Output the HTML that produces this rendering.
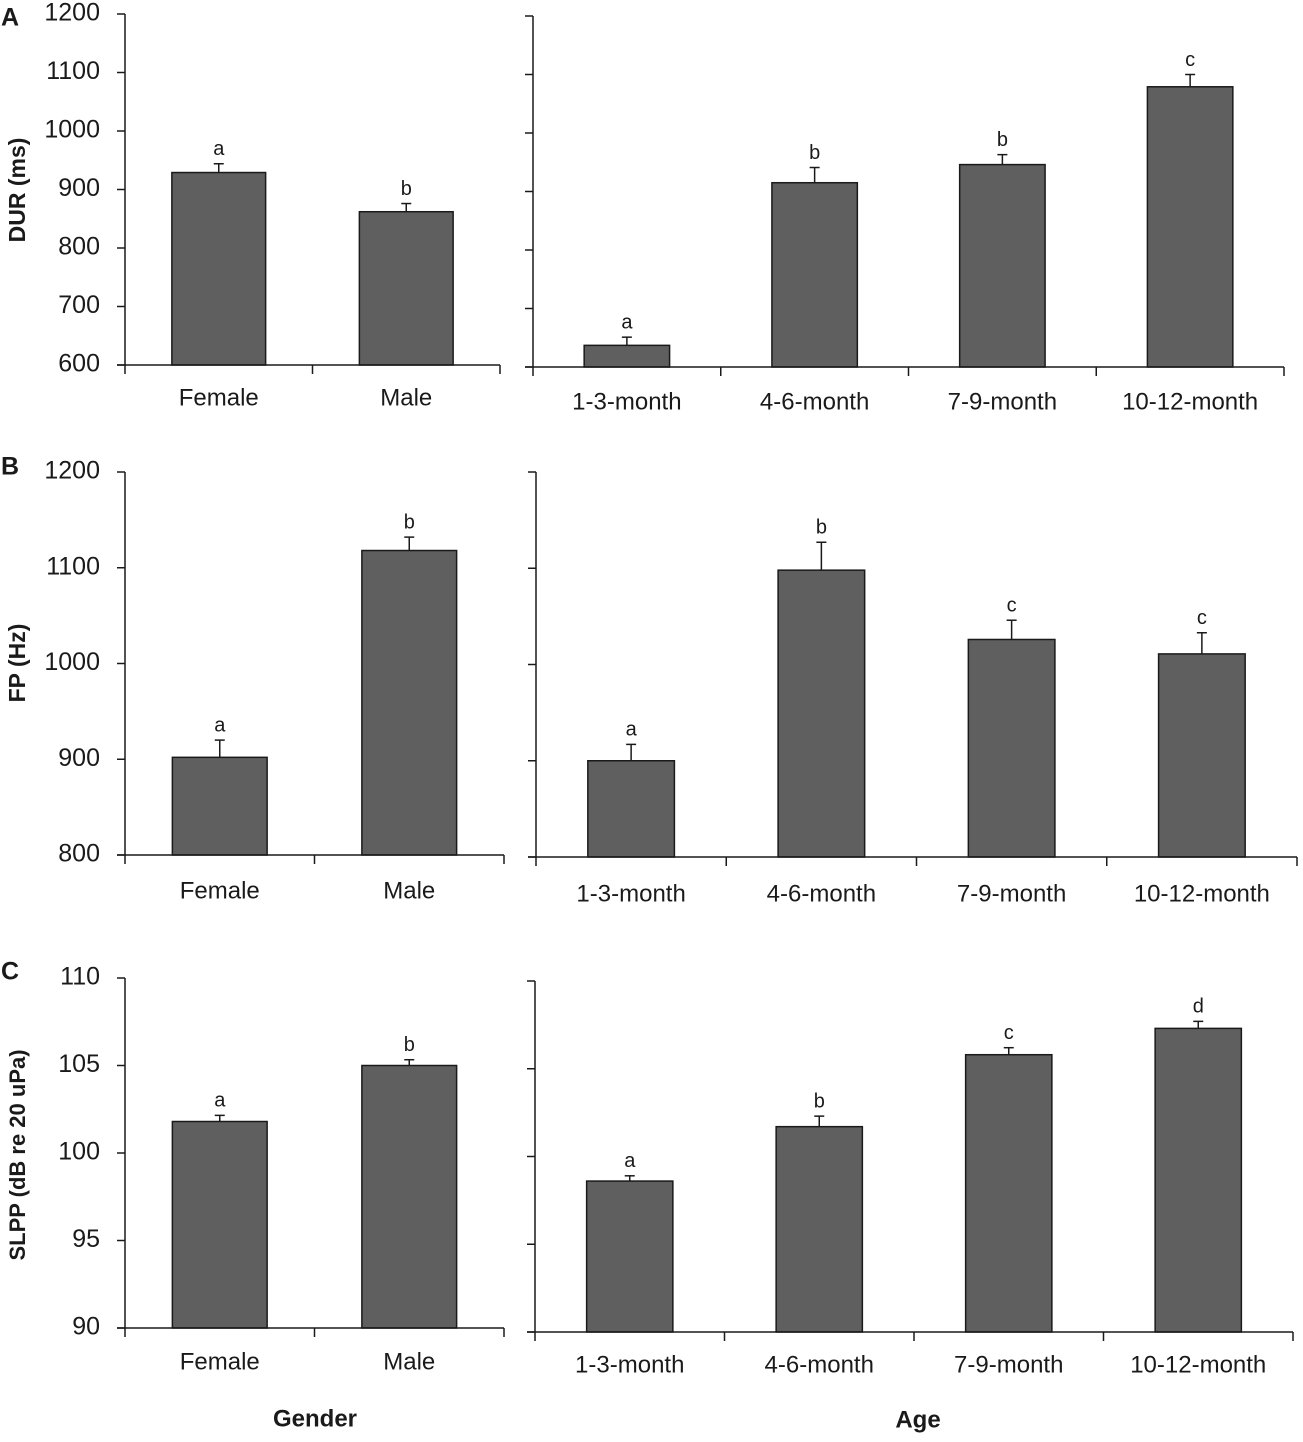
<!DOCTYPE html>
<html><head><meta charset="utf-8"><style>
html,body{margin:0;padding:0;background:#fff}
svg{display:block}
text{font-family:"Liberation Sans",sans-serif;fill:#1a1a1a}
</style></head><body>
<svg id="fig" width="1303" height="1442" viewBox="0 0 1303 1442" xmlns="http://www.w3.org/2000/svg"></svg>
<script>
// ---- data ----
const genderCats = ["Female", "Male"];
const ageCats = ["1-3-month", "4-6-month", "7-9-month", "10-12-month"];
const durGender = [929, 862];
const durGenderErr = [15, 14];
const durGenderSig = ["a", "b"];
const durAge = [637, 915, 946, 1079];
const durAgeErr = [14, 26, 17, 21];
const durAgeSig = ["a", "b", "b", "c"];
const fpGender = [902, 1118];
const fpGenderErr = [18, 14];
const fpGenderSig = ["a", "b"];
const fpAge = [900, 1098, 1026, 1011];
const fpAgeErr = [17, 29, 20, 22];
const fpAgeSig = ["a", "b", "c", "c"];
const slppGender = [101.8, 105.0];
const slppGenderErr = [0.35, 0.33];
const slppGenderSig = ["a", "b"];
const slppAge = [98.6, 101.7, 105.8, 107.3];
const slppAgeErr = [0.3, 0.6, 0.4, 0.4];
const slppAgeSig = ["a", "b", "c", "d"];
const durTicks = [600, 700, 800, 900, 1000, 1100, 1200];
const fpTicks = [800, 900, 1000, 1100, 1200];
const slppTicks = [90, 95, 100, 105, 110];

const NS = "http://www.w3.org/2000/svg";
const svg = document.getElementById("fig");
function mk(tag, attrs, parent) {
  const e = document.createElementNS(NS, tag);
  for (const k in attrs) e.setAttribute(k, attrs[k]);
  (parent || svg).appendChild(e);
  return e;
}

function panel(o) {
  const g = mk("g", {});
  
  
  const tmin = o.ticks[0], tmax = o.ticks[o.ticks.length - 1];
  const y = v => o.yb - (v - tmin) / (tmax - tmin) * (o.yb - o.yt);
  const band = (o.x1 - o.x0) / o.cats.length;
  const xc = i => o.x0 + band * (i + 0.5);
  const bw = band * o.bf;
  o.vals.forEach((v, i) => {
    const top = y(v), et = y(v + o.err[i]);
    const b = mk("rect", {x: xc(i) - bw / 2, y: top, width: bw, height: o.yb - top, fill: "#5e5f5e", stroke: "#1a1a1a", "stroke-width": 1.5}, g);
    
    
    const el = mk("line", {x1: xc(i), x2: xc(i), y1: top, y2: et, stroke: "#1a1a1a", "stroke-width": 1.5}, g);
    
    
    mk("line", {x1: xc(i) - 5, x2: xc(i) + 5, y1: et, y2: et, stroke: "#1a1a1a", "stroke-width": 1.5}, g);
    const s = mk("text", {x: xc(i), y: et - 14, "text-anchor": "middle", "dominant-baseline": "middle", "font-size": 20}, g);
    s.textContent = o.sig[i];
    
    
  });
  const ya = mk("line", {x1: o.x0, x2: o.x0, y1: o.yt, y2: o.yb, stroke: "#1a1a1a", "stroke-width": 1.5}, g);
  
  
  const xa = mk("line", {x1: o.x0 - 8, x2: o.x1, y1: o.yb, y2: o.yb, stroke: "#1a1a1a", "stroke-width": 1.5}, g);
  
  
  o.ticks.forEach(t => {
    mk("line", {x1: o.x0 - 8, x2: o.x0, y1: y(t), y2: y(t), stroke: "#1a1a1a", "stroke-width": 1.5}, g);
    if (o.labels) {
      const tl = mk("text", {x: o.x0 - 25, y: y(t), "text-anchor": "end", "dominant-baseline": "middle", "font-size": 25}, g);
      tl.textContent = t;
      
      
    }
  });
  for (let i = 0; i <= o.cats.length; i++) {
    const xx = o.x0 + band * i;
    mk("line", {x1: xx, x2: xx, y1: o.yb, y2: o.yb + 9, stroke: "#1a1a1a", "stroke-width": 1.5}, g);
  }
  o.cats.forEach((c, i) => {
    const cl = mk("text", {x: xc(i), y: o.ly, "text-anchor": "middle", "dominant-baseline": "middle", "font-size": 24}, g);
    cl.textContent = c;
    
    
  });
}

panel({name: "panel-a-gender", cats: genderCats, vals: durGender, err: durGenderErr, sig: durGenderSig, ticks: durTicks, x0: 125, x1: 500, yt: 14, yb: 365, bf: 0.5, labels: true, ly: 399});
panel({name: "panel-a-age", cats: ageCats, vals: durAge, err: durAgeErr, sig: durAgeSig, ticks: durTicks, x0: 533, x1: 1284, yt: 16, yb: 367, bf: 0.455, labels: false, ly: 403});
panel({name: "panel-b-gender", cats: genderCats, vals: fpGender, err: fpGenderErr, sig: fpGenderSig, ticks: fpTicks, x0: 125, x1: 504, yt: 472, yb: 855, bf: 0.5, labels: true, ly: 892});
panel({name: "panel-b-age", cats: ageCats, vals: fpAge, err: fpAgeErr, sig: fpAgeSig, ticks: fpTicks, x0: 536, x1: 1297, yt: 472, yb: 857, bf: 0.455, labels: false, ly: 895});
panel({name: "panel-c-gender", cats: genderCats, vals: slppGender, err: slppGenderErr, sig: slppGenderSig, ticks: slppTicks, x0: 125, x1: 504, yt: 978, yb: 1328, bf: 0.5, labels: true, ly: 1363});
panel({name: "panel-c-age", cats: ageCats, vals: slppAge, err: slppAgeErr, sig: slppAgeSig, ticks: slppTicks, x0: 535, x1: 1293, yt: 981, yb: 1332, bf: 0.455, labels: false, ly: 1366});

function txt(s, x, y, size, name, extra) {
  const t = mk("text", Object.assign({x: x, y: y, "font-size": size, "font-weight": "bold", "dominant-baseline": "middle"}, extra || {}));
  t.textContent = s;
  
  
}
txt("A", 1, 19, 25, "panel-label-a");
txt("B", 1, 468, 25, "panel-label-b");
txt("C", 1, 973, 25, "panel-label-c");
txt("DUR (ms)", 19, 190, 23, "y-axis-title-dur", {"text-anchor": "middle", transform: "rotate(-90 19 190)"});
txt("FP (Hz)", 19, 663, 23, "y-axis-title-fp", {"text-anchor": "middle", transform: "rotate(-90 19 663)"});
txt("SLPP (dB re 20 uPa)", 19, 1155, 22, "y-axis-title-slpp", {"text-anchor": "middle", transform: "rotate(-90 19 1155)"});
txt("Gender", 315, 1420, 24, "x-axis-title-gender", {"text-anchor": "middle"});
txt("Age", 918, 1421, 24, "x-axis-title-age", {"text-anchor": "middle"});
</script>
</body></html>
